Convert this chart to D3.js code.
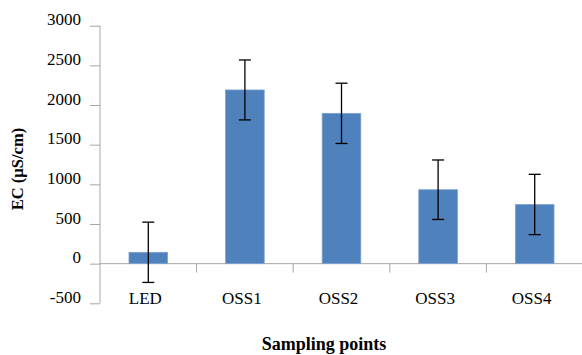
<!DOCTYPE html>
<html>
<head>
<meta charset="utf-8">
<script src="https://cdn.jsdelivr.net/npm/d3@7/dist/d3.min.js"></script>
<style>
  body { margin: 0; background: #fff; }
  svg { display: block; }
  text { font-family: "Liberation Serif", "Times New Roman", serif; fill: #000; }
</style>
</head>
<body>
<svg id="chart" width="582" height="355"></svg>
<script>
const categories = ["LED", "OSS1", "OSS2", "OSS3", "OSS4"];
const ecValues = [143, 2190, 1895, 932, 746];
const ecErrors = [380, 378, 380, 375, 380];
const yTicks = [-500, 0, 500, 1000, 1500, 2000, 2500, 3000];
const yTitle = "EC (µS/cm)";
const xTitle = "Sampling points";

const svg = d3.select("#chart");
const axisColor = "#a6a6a6";

const y = d3.scaleLinear().domain([-500, 3000]).range([303.3, 25.7]);
const x = d3.scaleBand().domain(categories).range([100, 583]).paddingInner(0.6).paddingOuter(0.3);

// Y axis
const yAxis = svg.append("g").attr("transform", "translate(100,0)")
  .call(d3.axisLeft(y).tickValues(yTicks).tickSize(10).tickPadding(9).tickFormat(d => String(d)));
yAxis.select(".domain").attr("stroke", axisColor).attr("d", `M0,${y(-500)}V${y(3000)}`);
yAxis.selectAll(".tick line").attr("stroke", axisColor);
yAxis.selectAll(".tick text")
  .attr("font-family", "Liberation Serif, serif")
  .attr("font-size", 17).attr("fill", "#000")
  .attr("dy", "-0.05em");

// X axis (zero line) and category boundary ticks
const step = x.step();
const x0 = 100;
svg.append("line")
  .attr("x1", x0).attr("x2", 583)
  .attr("y1", y(0)).attr("y2", y(0))
  .attr("stroke", axisColor).attr("stroke-width", 1);
svg.selectAll("line.xtick").data(categories).enter().append("line")
  .attr("class", "xtick")
  .attr("x1", (d, i) => x0 + (i + 1) * step).attr("x2", (d, i) => x0 + (i + 1) * step)
  .attr("y1", y(0)).attr("y2", y(0) + 9)
  .attr("stroke", axisColor);

// Bars
svg.selectAll("rect.bar").data(categories).enter().append("rect")
  .attr("class", "bar")
  .attr("x", d => x(d))
  .attr("width", x.bandwidth())
  .attr("y", (d, i) => y(Math.max(0, ecValues[i])))
  .attr("height", (d, i) => Math.abs(y(ecValues[i]) - y(0)))
  .attr("fill", "#4f81bd")
  .attr("stroke", "#7fa3d1").attr("stroke-width", 0.8);

// Error bars
const eb = svg.selectAll("g.err").data(categories).enter().append("g").attr("class", "err");
eb.append("line")
  .attr("x1", d => x(d) + x.bandwidth() / 2).attr("x2", d => x(d) + x.bandwidth() / 2)
  .attr("y1", (d, i) => y(ecValues[i] + ecErrors[i]))
  .attr("y2", (d, i) => y(ecValues[i] - ecErrors[i]))
  .attr("stroke", "#000").attr("stroke-width", 1.3);
[1, -1].forEach(s => {
  eb.append("line")
    .attr("x1", d => x(d) + x.bandwidth() / 2 - 6).attr("x2", d => x(d) + x.bandwidth() / 2 + 6)
    .attr("y1", (d, i) => y(ecValues[i] + s * ecErrors[i]))
    .attr("y2", (d, i) => y(ecValues[i] + s * ecErrors[i]))
    .attr("stroke", "#000").attr("stroke-width", 1.3);
});

// Category labels
svg.selectAll("text.cat").data(categories).enter().append("text")
  .attr("class", "cat")
  .attr("x", d => x(d) + x.bandwidth() / 2 - 3)
  .attr("y", 304)
  .attr("text-anchor", "middle")
  .attr("font-size", 17)
  .text(d => d);

// Axis titles
svg.append("text")
  .attr("transform", "translate(23,169) rotate(-90)")
  .attr("text-anchor", "middle")
  .attr("font-size", 16.5).attr("font-weight", "bold")
  .text(yTitle);
svg.append("text")
  .attr("x", 324).attr("y", 350)
  .attr("text-anchor", "middle")
  .attr("font-size", 18).attr("font-weight", "bold")
  .text(xTitle);
</script>
</body>
</html>
